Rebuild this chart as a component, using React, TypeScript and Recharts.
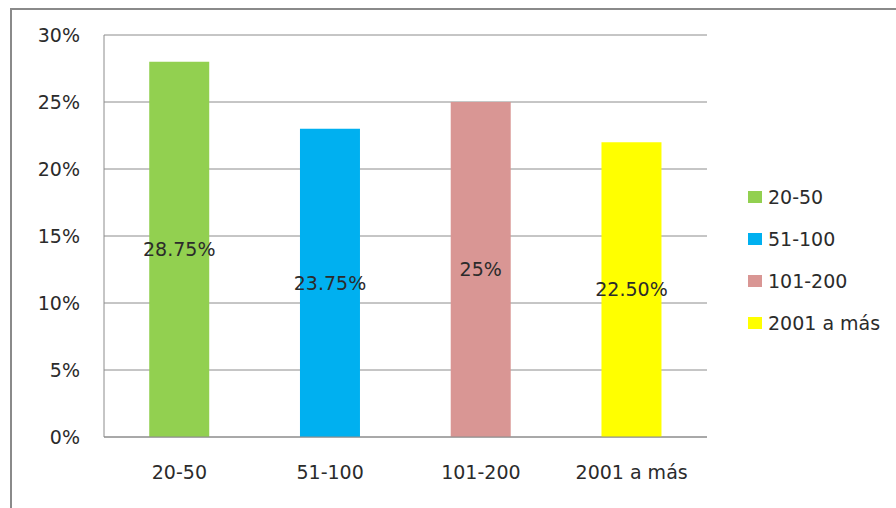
import React from "react";
import { BarChart, Bar, XAxis, YAxis, CartesianGrid, Cell, LabelList, Legend } from "recharts";

const categories = ["20-50", "51-100", "101-200", "2001 a más"];
const barValues = [28, 23, 25, 22];
const labelTexts = ["28.75%", "23.75%", "25%", "22.50%"];
const colors = ["#92D050", "#00B0F0", "#D99694", "#FFFF00"];
const yTicks = [0, 5, 10, 15, 20, 25, 30];

const data = categories.map((c, i) => ({ name: c, value: barValues[i], label: labelTexts[i] }));

const FONT = "'DejaVu Sans', sans-serif";
const TEXT = "#2b2b2b";

const renderLegend = () => (
  <div style={{ fontFamily: FONT, fontSize: 19, color: TEXT }}>
    {categories.map((c, i) => (
      <div key={c} style={{ display: "flex", alignItems: "center", height: 42 }}>
        <span style={{ display: "inline-block", width: 14, height: 12, background: colors[i], marginRight: 6 }} />
        <span>{c}</span>
      </div>
    ))}
  </div>
);

export default function App() {
  return (
    <div style={{ position: "absolute", left: 0, top: 0, width: 896, height: 508, overflow: "hidden", background: "#fff" }}>
      <div style={{ position: "absolute", left: 10, top: 8, width: 1000, height: 700, borderTop: "2px solid #8a8a8a", borderLeft: "2px solid #8a8a8a" }} />
      <div style={{ position: "absolute", left: 0, top: 0 }}>
        <BarChart width={896} height={508} data={data} margin={{ top: 35, right: 189, bottom: 11, left: 0 }} barCategoryGap="30%">
          <CartesianGrid vertical={false} stroke="#8c8c8c" strokeWidth={1} />
          <XAxis
            dataKey="name"
            height={60}
            tickLine={false}
            tickSize={0}
            tickMargin={29}
            axisLine={{ stroke: "#8c8c8c" }}
            tick={{ fill: TEXT, fontSize: 19, fontFamily: FONT }}
          />
          <YAxis
            width={104}
            domain={[0, 30]}
            ticks={yTicks}
            tickFormatter={(v: number) => `${v}%`}
            tickLine={false}
            tickSize={0}
            tickMargin={24}
            axisLine={{ stroke: "#8c8c8c" }}
            tick={{ fill: TEXT, fontSize: 19, fontFamily: FONT }}
            interval={0}
          />
          <Legend
            layout="vertical"
            align="center"
            verticalAlign="middle"
            content={renderLegend}
            wrapperStyle={{ left: 748, top: 176, width: 148 }}
          />
          <Bar dataKey="value" isAnimationActive={false}>
            {data.map((d, i) => (
              <Cell key={d.name} fill={colors[i]} />
            ))}
            <LabelList dataKey="label" position="center" fill={TEXT} fontSize={19} fontFamily={FONT} />
          </Bar>
        </BarChart>
      </div>
    </div>
  );
}
